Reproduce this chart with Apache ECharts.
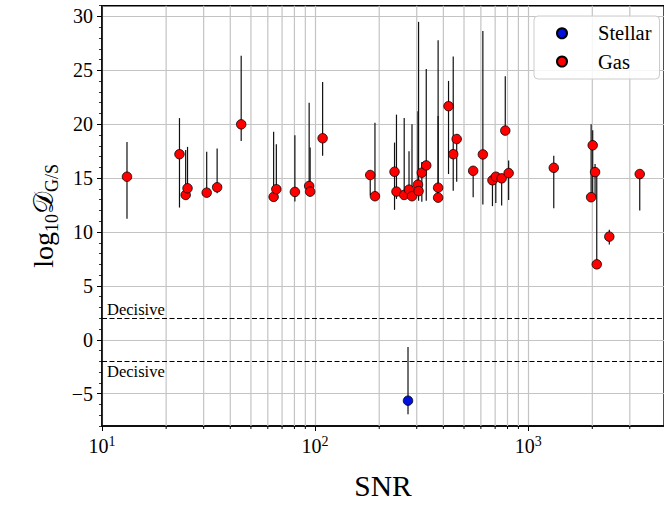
<!DOCTYPE html>
<html><head><meta charset="utf-8">
<script src="https://cdn.jsdelivr.net/npm/echarts@6/dist/echarts.min.js"></script>
<style>html,body{margin:0;padding:0;background:#fff}#c{width:664px;height:506px}</style>
</head><body><div id="c"></div>
<script>
// ---- data ----
const gasSNR  = [13.1, 23.1, 24.7, 25.2, 31.0, 34.7, 45.0, 63.9, 65.8, 80.4, 93.8, 94.8, 108.5, 181.5, 191, 236, 241, 262, 276, 285, 304, 306, 317, 332.5, 378, 378, 423, 445, 462, 552, 613, 680, 705, 751, 781, 810, 1319, 1975, 2009, 2061, 2099, 2404, 3340];
const gasD    = [15.13, 17.22, 13.44, 14.06, 13.65, 14.15, 19.99, 13.26, 13.97, 13.72, 14.27, 13.75, 18.70, 15.29, 13.32, 15.59, 13.75, 13.44, 13.93, 13.32, 14.40, 13.80, 15.50, 16.18, 14.11, 13.19, 21.68, 17.22, 18.63, 15.68, 17.20, 14.80, 15.13, 14.98, 19.41, 15.47, 15.96, 13.23, 18.05, 15.56, 7.00, 9.57, 15.38];
const gasLow  = [11.23, 12.27, 13.0, 13.6, 13.5, 13.6, 18.45, 12.9, 13.5, 12.82, 13.8, 13.3, 17.07, 13.4, 13.0, 12.06, 13.07, 13.1, 13.5, 13.0, 13.5, 12.9, 12.8, 12.9, 13.7, 12.9, 15.38, 13.84, 14.67, 13.23, 12.55, 12.4, 12.7, 12.46, 19.1, 12.98, 12.21, 13.0, 13.1, 13.2, 6.8, 8.83, 12.0];
const gasHigh = [18.36, 20.57, 17.6, 17.9, 17.44, 17.75, 26.36, 19.3, 18.15, 18.98, 22.0, 17.84, 23.93, 15.6, 20.15, 18.3, 20.89, 20.57, 17.5, 19.99, 21.2, 29.5, 16.5, 25.13, 27.8, 20.76, 24.02, 26.29, 19.07, 15.9, 28.66, 15.0, 15.3, 15.2, 24.45, 16.64, 17.07, 19.99, 19.44, 16.3, 15.8, 10.21, 15.6];
const stellarSNR  = [273];
const stellarD    = [-5.65];
const stellarLow  = [-6.92];
const stellarHigh = [-0.67];
const xMinorTicks = [20, 30, 40, 50, 60, 70, 80, 90, 200, 300, 400, 500, 600, 700, 800, 900, 2000, 3000];
const yMajorTicks = [-5, 0, 5, 10, 15, 20, 25, 30];
const decisiveLevels = [2, -2];
const seriesNames = ['Stellar', 'Gas'];

const FONT = 'Liberation Serif';
const Y_MIN = -8, Y_MAX = 31, X_MIN = 10, X_MAX = 4341;

const chart = echarts.init(document.getElementById('c'), null, {renderer: 'svg'});

function errRender(params, api) {
  const x = api.value(0);
  const p1 = api.coord([x, api.value(1)]);
  const p2 = api.coord([x, api.value(2)]);
  return {type: 'line', shape: {x1: p1[0], y1: p1[1], x2: p2[0], y2: p2[1]},
          style: {stroke: '#111', lineWidth: 1.2}};
}
function minorRender(params, api) {
  const v = api.value(0);
  const t = api.coord([v, Y_MAX]);
  const b = api.coord([v, Y_MIN]);
  return {type: 'group', children: [
    {type: 'line', shape: {x1: t[0], y1: t[1], x2: b[0], y2: b[1]}, style: {stroke: '#c4c4c4', lineWidth: 1.2}},
    {type: 'line', shape: {x1: b[0], y1: b[1], x2: b[0], y2: b[1] + 3}, style: {stroke: '#000', lineWidth: 1}}
  ]};
}

const option = {
  animation: false,
  backgroundColor: '#fff',
  textStyle: {fontFamily: FONT, color: '#000'},
  grid: {left: 102, top: 5.7, bottom: 77.6, right: -4, show: true, borderColor: '#000', borderWidth: 1.5, backgroundColor: 'transparent'},
  legend: {
    data: seriesNames, orient: 'vertical', left: 534, top: 16,
    itemWidth: 10, itemHeight: 10, itemGap: 7.3, icon: 'circle',
    padding: [6.7, 8, 7, 22],
    backgroundColor: 'rgba(255,255,255,0.85)', borderColor: '#cccccc', borderWidth: 1, borderRadius: 4,
    formatter: name => '{t|' + name + '}',
    textStyle: {fontFamily: FONT, fontSize: 20.5, lineHeight: 20, color: '#000',
      rich: {t: {fontFamily: FONT, fontSize: 20.5, lineHeight: 20, color: '#000', padding: [0, 0, 0, 26]}}}
  },
  xAxis: {
    type: 'log', logBase: 10, min: X_MIN, max: X_MAX,
    axisLine: {show: true, onZero: false, lineStyle: {color: '#000', width: 1.5}},
    axisTick: {show: true, length: 5, lineStyle: {color: '#000', width: 1}},
    axisLabel: {
      showMaxLabel: false, showMinLabel: true, margin: 8, color: '#000',
      formatter: v => '{b|10}{s|' + Math.round(Math.log10(v)) + '}',
      rich: {
        b: {fontFamily: FONT, fontSize: 20, lineHeight: 23, color: '#000'},
        s: {fontFamily: FONT, fontSize: 14, lineHeight: 13, verticalAlign: 'top', color: '#000'}
      }
    },
    splitLine: {show: true, lineStyle: {color: '#c4c4c4', width: 1.2}},
    name: 'SNR', nameLocation: 'middle', nameGap: 45,
    nameTextStyle: {fontFamily: FONT, fontSize: 29.5, color: '#000'}
  },
  yAxis: [{
    type: 'value', min: Y_MIN, max: Y_MAX, position: 'left',
    axisLine: {show: true, onZero: false, lineStyle: {color: '#000', width: 1.5}},
    axisTick: {show: true, length: 5, customValues: yMajorTicks, lineStyle: {color: '#000', width: 1}},
    axisLabel: {customValues: yMajorTicks, margin: 9, color: '#000', fontFamily: FONT, fontSize: 20,
      formatter: v => v < 0 ? '\u2212' + Math.abs(v) : String(v)},
    splitLine: {show: true, lineStyle: {color: '#c4c4c4', width: 1.2}},
    name: '{n|log}{sub|10}{d|\uD835\uDC9F}{sub|G/S}', nameLocation: 'middle', nameGap: 38, nameRotate: 90,
    nameTextStyle: {
      rich: {
        n: {fontFamily: FONT, fontSize: 28, lineHeight: 34, color: '#000', verticalAlign: 'middle'},
        d: {fontFamily: FONT, fontSize: 28, lineHeight: 34, color: '#000', verticalAlign: 'middle'},
        sub: {fontFamily: FONT, fontSize: 18, lineHeight: 18, color: '#000', verticalAlign: 'bottom'}
      }
    }
  }, {
    type: 'value', min: Y_MIN, max: Y_MAX, interval: 1, position: 'left',
    axisLine: {show: false, onZero: false},
    axisTick: {show: true, length: 3, lineStyle: {color: '#000', width: 0.8}},
    axisLabel: {show: false}, splitLine: {show: false}
  }],
  series: [
    {type: 'custom', name: 'minorGrid', silent: true, z: 1, renderItem: minorRender,
     data: xMinorTicks.map(v => [v, 0]), encode: {x: 0, y: 1}},
    {type: 'custom', name: 'gasErr', silent: true, z: 2, renderItem: errRender,
     data: gasSNR.map((s, i) => [s, gasLow[i], gasHigh[i]]), encode: {x: 0, y: [1, 2]},
     markLine: {
       silent: true, symbol: 'none',
       lineStyle: {color: '#000', type: [5, 2.5], width: 1.2},
       data: decisiveLevels.map(v => ({
         yAxis: v,
         label: {show: true, formatter: 'Decisive', position: v > 0 ? 'insideStartTop' : 'insideStartBottom',
                 distance: v > 0 ? [5, 0] : [5, 2], fontFamily: FONT, fontSize: 16.5, color: '#000'}
       }))
     }},
    {type: 'custom', name: 'stellarErr', silent: true, z: 2, renderItem: errRender,
     data: stellarSNR.map((s, i) => [s, stellarLow[i], stellarHigh[i]]), encode: {x: 0, y: [1, 2]}},
    {type: 'scatter', name: 'Stellar', z: 3, symbol: 'circle', symbolSize: 9.5,
     itemStyle: {color: '#0010dd', borderColor: '#000', borderWidth: 0.8, opacity: 1},
     data: stellarSNR.map((s, i) => [s, stellarD[i]])},
    {type: 'scatter', name: 'Gas', z: 3, symbol: 'circle', symbolSize: 9.5,
     itemStyle: {color: '#ff0000', borderColor: '#000', borderWidth: 0.8, opacity: 1},
     data: gasSNR.map((s, i) => [s, gasD[i]])}
  ]
};
chart.setOption(option);
</script>
</body></html>
